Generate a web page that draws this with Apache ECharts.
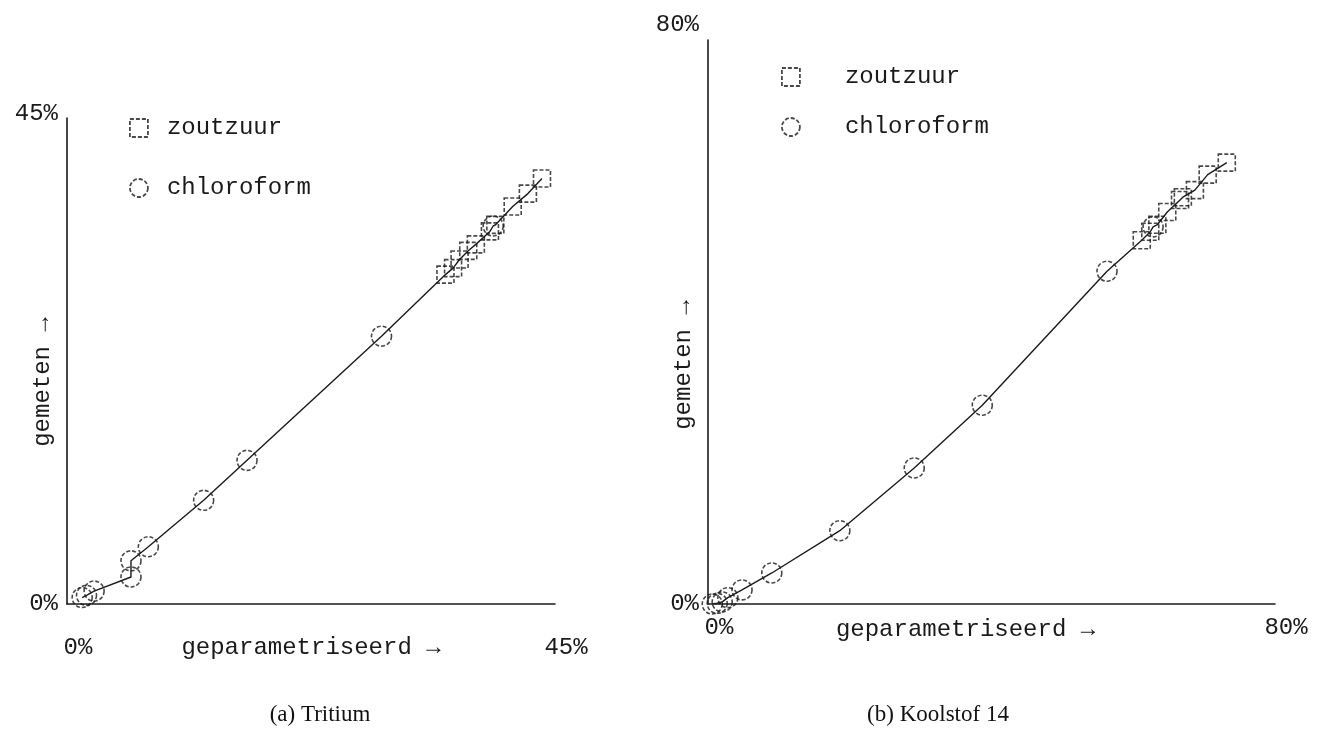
<!DOCTYPE html>
<html>
<head>
<meta charset="utf-8">
<script src="https://cdn.jsdelivr.net/npm/echarts@6/dist/echarts.min.js"></script>
<style>
html, body { margin: 0; padding: 0; background: #fff; }
#main { width: 1317px; height: 749px; }
</style>
</head>
<body>
<div id="main"></div>
<script>
// (a) Tritium - geparametriseerd (x) vs gemeten (y), in %
var triZoutX = [34.9, 35.6, 36.2, 37.0, 37.7, 39.0, 39.5, 41.1, 42.5, 43.8]
var triZoutY = [30.5, 31.1, 31.9, 32.7, 33.3, 34.5, 35.1, 36.8, 38.0, 39.4]
var triChloX = [1.4, 1.8, 2.5, 5.9, 5.9, 7.5, 12.6, 16.6, 29.0, 39.3]
var triChloY = [0.6, 0.8, 1.2, 2.5, 4.0, 5.3, 9.6, 13.3, 24.8, 35.0]

// (b) Koolstof 14
var c14ZoutX = [61.2, 62.4, 63.4, 64.8, 66.6, 67.0, 68.7, 70.5, 73.2]
var c14ZoutY = [51.6, 52.8, 53.8, 55.6, 57.3, 57.7, 58.7, 60.9, 62.6]
var c14ChloX = [0.6, 1.3, 2.0, 2.8, 4.8, 9.0, 18.6, 29.1, 38.7, 56.3, 62.8]
var c14ChloY = [0.0, 0.1, 0.3, 0.9, 2.0, 4.4, 10.4, 19.3, 28.2, 47.2, 53.5]

var triMax = 45
var c14Max = 80
var seriesNames = ['zoutzuur', 'chloroform']
var axisNameX = 'geparametriseerd \u2192'
var axisNameY = 'gemeten \u2192'
var titles = ['(a) Tritium', '(b) Koolstof 14']

var mono = 'Liberation Mono'
var ink = '#1a1a1a'

function pairs(xs, ys) {
    return xs.map(function (x, i) { return [x, ys[i]] })
}
/* lijn door alle punten, gesorteerd op x */
function curve(a, b) {
    return a.concat(b).sort(function (p, q) { return p[0] - q[0] || p[1] - q[1] })
}

var triZout = pairs(triZoutX, triZoutY)
var triChlo = pairs(triChloX, triChloY)
var c14Zout = pairs(c14ZoutX, c14ZoutY)
var c14Chlo = pairs(c14ChloX, c14ChloY)

var markStyle = {
    color: 'rgba(0,0,0,0)',
    borderColor: ink,
    borderWidth: 1.6,
    borderType: [4, 2]
}

function xAxis(idx, max, margin, gap, shift) {
    return {
        gridIndex: idx, type: 'value', min: 0, max: max, interval: max,
        name: axisNameX, nameLocation: 'middle', nameGap: gap, nameMoveOverlap: false,
        nameTextStyle: { fontFamily: mono, fontSize: 24, color: ink, padding: [0, shift, 0, 0] },
        axisLine: { onZero: false, lineStyle: { color: ink, width: 1.6 } },
        axisTick: { show: false },
        splitLine: { show: false },
        axisLabel: {
            formatter: '{value}%', fontFamily: mono, fontSize: 24, color: ink,
            margin: margin, padding: [0, 0, 0, 22]
        }
    }
}

function yAxis(idx, max, gap, shift, topPad) {
    return {
        gridIndex: idx, type: 'value', min: 0, max: max, interval: max,
        name: axisNameY, nameLocation: 'middle', nameGap: gap, nameRotate: 90, nameMoveOverlap: false,
        nameTextStyle: { fontFamily: mono, fontSize: 24, color: ink, padding: [0, shift, 0, 0] },
        axisLine: { onZero: false, lineStyle: { color: ink, width: 1.6 } },
        axisTick: { show: false },
        splitLine: { show: false },
        axisLabel: {
            fontFamily: mono, fontSize: 24, color: ink, margin: 9,
            formatter: function (v) { return v === max ? '{t|' + v + '%}' : '{b|' + v + '%}' },
            rich: {
                t: { fontFamily: mono, fontSize: 24, color: ink, padding: [0, 0, topPad, 0] },
                b: { fontFamily: mono, fontSize: 24, color: ink }
            }
        }
    }
}

function lineSeries(idx, data) {
    return {
        type: 'line', xAxisIndex: idx, yAxisIndex: idx, data: data,
        showSymbol: false, symbol: 'none', silent: true, z: 1,
        lineStyle: { color: ink, width: 1.4 }
    }
}

function pointSeries(idx, name, data, symbol, size) {
    return {
        type: 'scatter', name: name, xAxisIndex: idx, yAxisIndex: idx, data: data,
        symbol: symbol, symbolSize: size, itemStyle: markStyle, z: 3
    }
}

var legendText = { fontFamily: mono, fontSize: 24, color: ink }
var legendIcon = { color: 'rgba(0,0,0,0)', borderColor: ink, borderWidth: 1.8, borderType: [4, 2] }

var option = {
    backgroundColor: '#fff',
    animation: false,
    title: [
        { text: titles[0], left: 315, top: 698, textAlign: 'center',
          textStyle: { fontFamily: 'Liberation Serif', fontSize: 23, fontWeight: 'normal', color: '#111' } },
        { text: titles[1], left: 933, top: 698, textAlign: 'center',
          textStyle: { fontFamily: 'Liberation Serif', fontSize: 23, fontWeight: 'normal', color: '#111' } }
    ],
    legend: [
        { orient: 'vertical', left: 124, top: 111, itemGap: 36, itemWidth: 18, itemHeight: 18,
          data: seriesNames, itemStyle: legendIcon, textStyle: Object.assign({ padding: [0, 0, 0, 14] }, legendText) },
        { orient: 'vertical', left: 776, top: 60, itemGap: 26, itemWidth: 18, itemHeight: 18,
          data: seriesNames, itemStyle: legendIcon, textStyle: Object.assign({ padding: [0, 0, 0, 40] }, legendText) }
    ],
    grid: [
        { left: 67, top: 118, right: 762, bottom: 145, containLabel: false, outerBoundsMode: 'none' },
        { left: 708, top: 40, right: 42, bottom: 145, containLabel: false, outerBoundsMode: 'none' }
    ],
    xAxis: [
        xAxis(0, triMax, 32, 32, 0),
        xAxis(1, c14Max, 12, 14, 52)
    ],
    yAxis: [
        yAxis(0, triMax, 12, 42, 8),
        yAxis(1, c14Max, 12, 86, 30)
    ],
    series: [
        lineSeries(0, curve(triZout, triChlo)),
        pointSeries(0, seriesNames[0], triZout, 'rect', 17),
        pointSeries(0, seriesNames[1], triChlo, 'circle', 20),
        lineSeries(1, curve(c14Zout, c14Chlo)),
        pointSeries(1, seriesNames[0], c14Zout, 'rect', 17),
        pointSeries(1, seriesNames[1], c14Chlo, 'circle', 20)
    ]
}

var chart = echarts.init(document.getElementById('main'), null, { renderer: 'canvas' })
chart.setOption(option)
</script>
</body>
</html>
